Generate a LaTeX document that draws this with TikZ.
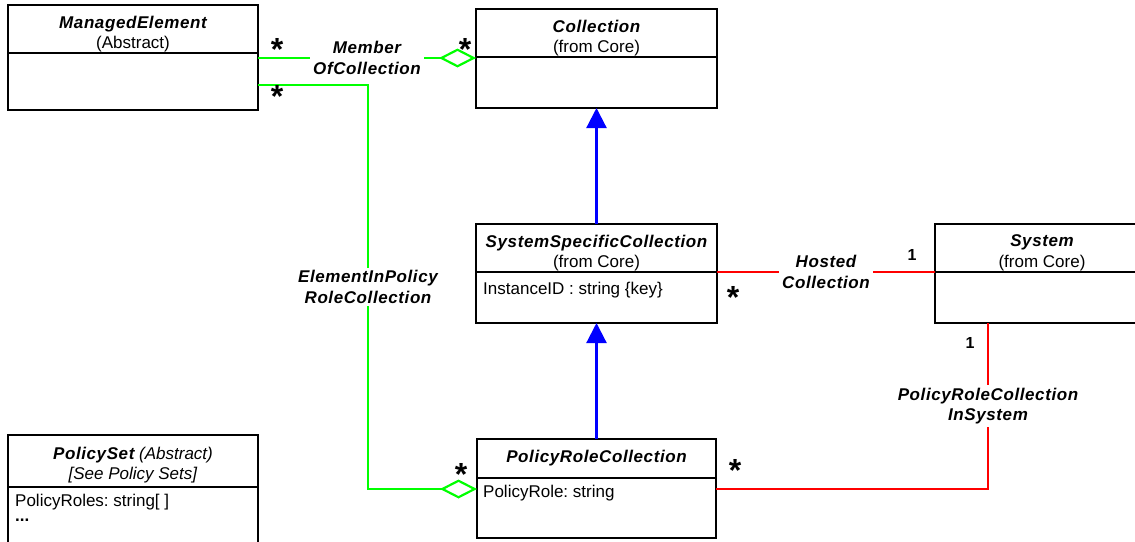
\documentclass[tikz,border=0pt]{standalone}
\usepackage{fontspec}
\setmainfont{Liberation Sans}
\newfontfamily\umlfont{Liberation Sans}[LetterSpace=3.5]
\newcommand\classname[1]{{\umlfont\bfseries\itshape #1}}
\frenchspacing
\usepackage{tikz}
\tikzset{font={\fontsize{17pt}{20.5pt}\selectfont}}
\usetikzlibrary{positioning,arrows.meta}
\definecolor{umlgreen}{RGB}{0,255,0}
\definecolor{umlred}{RGB}{255,0,0}
\definecolor{umlblue}{RGB}{0,0,255}

\begin{document}
\begin{tikzpicture}[x=1pt,y=-1pt,
    head/.style={draw,line width=2.4pt,anchor=north west,inner sep=0pt,outer sep=0pt},
    headtext/.style={align=center,inner sep=0pt,yshift=-5pt},
    body/.style={draw,line width=2.4pt,inner sep=0pt,outer sep=0pt},
    attr/.style={anchor=west,inner sep=0pt},
    tag/.style={fill=white,text=black,inner sep=3pt,align=center,font={\fontsize{17pt}{20.5pt}\selectfont\umlfont\bfseries\itshape}},
    mult/.style={inner sep=0pt,yshift=-4pt,font={\fontsize{32pt}{32pt}\selectfont\bfseries}},
    one/.style={inner sep=0pt,font={\fontsize{16pt}{16pt}\selectfont\bfseries}},
    aggr/.style={umlgreen,line width=2.2pt,{Diamond[open,length=37pt,width=19pt]}-},
    hosted/.style={umlred,line width=2.2pt},
    inherit/.style={umlblue,line width=2.2pt,-{Triangle[length=20pt,width=20pt]}}]

  \useasboundingbox (0,0) rectangle (1135,541);

  % classes
  \node[head,minimum width=250,minimum height=48,
    label={[headtext]center:{\classname{ManagedElement}\\(Abstract)}}] (mehead) at (8,5) {};
  \node[body,minimum width=250,minimum height=57,below=0pt of mehead] (mebody) {};

  \node[head,minimum width=241,minimum height=48,
    label={[headtext]center:{\classname{Collection}\\(from Core)}}] (colhead) at (476,9) {};
  \node[body,minimum width=241,minimum height=51,below=0pt of colhead] (colbody) {};

  \node[head,minimum width=241,minimum height=48,
    label={[headtext]center:{\classname{SystemSpecificCollection}\\(from Core)}}] (sschead) at (476,224) {};
  \node[body,minimum width=241,minimum height=51,below=0pt of sschead] (sscbody) {};
  \node[attr] (sscattr) at ([xshift=7pt,yshift=-18pt]sscbody.north west) {InstanceID : string \{key\}};

  \node[head,minimum width=214,minimum height=48,
    label={[headtext]center:{\classname{System}\\(from Core)}}] (syshead) at (935,224) {};
  \node[body,minimum width=214,minimum height=51,below=0pt of syshead] (sysbody) {};

  \node[head,minimum width=239,minimum height=39] (prchead) at (477,439)
    {\classname{PolicyRoleCollection}};
  \node[body,minimum width=239,minimum height=60,below=0pt of prchead] (prcbody) {};
  \node[attr] (prcattr) at ([xshift=6pt,yshift=-15pt]prcbody.north west) {PolicyRole: string};

  \node[head,minimum width=250,minimum height=52,
    label={[headtext,yshift=1pt]center:{\classname{PolicySet} \textit{(Abstract)}\\\textit{[See Policy Sets]}}}] (pshead) at (8,435) {};
  \node[body,minimum width=250,minimum height=80,below=0pt of pshead] (psbody) {};
  \node[attr] (psattr) at ([xshift=7pt,yshift=-15pt]psbody.north west) {PolicyRoles: string[ ]};
  \node[attr] (psmore) at ([xshift=7pt,yshift=-33pt]psbody.north west) {\textbf{...}};

  % inheritance
  \draw[inherit] (sschead.north) -- (colbody.south);
  \draw[inherit] (prchead.north) -- (sscbody.south);

  % associations
  \draw[aggr] ([yshift=-1pt]colhead.south west) -- node[tag] {Member\\OfCollection}
    ([yshift=-1pt]colhead.south west -| mehead.east);
  \draw[aggr] ([yshift=-11pt]prcbody.north west) -- ++(-109,0)
    |- node[tag,pos=0.25] {ElementInPolicy\\RoleCollection} ([yshift=-3.5pt]mebody.east);
  \draw[hosted] (sschead.south east) -- node[tag] {Hosted\\Collection} (syshead.south west);
  \draw[hosted] ([yshift=-11pt]prcbody.north east)
    -| node[tag,pos=0.75] {PolicyRoleCollection\\InSystem} ([xshift=53pt]sysbody.south west);

  % multiplicities
  \node[mult] (m1) at (277,45) {*};
  \node[mult] (m2) at (465,45) {*};
  \node[mult] (m3) at (277,92) {*};
  \node[mult] (m4) at (461,470) {*};
  \node[mult] (m5) at (735,466) {*};
  \node[mult] (m6) at (733,293) {*};
  \node[one] (n1) at (912,255) {1};
  \node[one] (n2) at (970,343) {1};
\end{tikzpicture}
\end{document}
